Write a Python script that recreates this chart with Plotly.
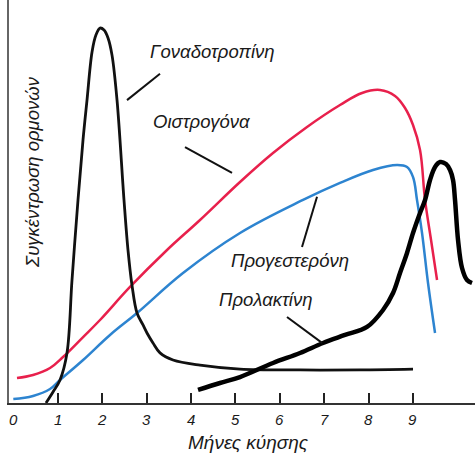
import plotly.graph_objects as go

# Months of pregnancy (x) and relative hormone concentration (y, 0-100)
gonado_x = [0.736, 0.894, 1.052, 1.209, 1.322, 1.457, 1.570, 1.660, 1.773, 1.863, 1.953,
            2.043, 2.133, 2.223, 2.336, 2.493, 2.583, 2.673, 2.786, 2.921, 3.011, 3.146,
            3.304, 3.597, 4.205, 5.106, 6.457, 7.809, 9.002]
gonado_y = [0.0, 2.76, 5.78, 12.56, 30.9, 51.0, 66.1, 76.1, 88.2, 92.5, 94.2,
            93.7, 91.7, 87.4, 76.1, 51.0, 38.4, 29.6, 22.6, 19.6, 17.6, 15.1,
            12.6, 10.8, 9.5, 8.5, 8.3, 8.3, 8.5]

estro_x = [0.083, 0.444, 0.827, 1.119, 1.572, 1.953, 2.628, 3.462, 4.205, 5.106, 5.849,
           6.615, 7.358, 7.854, 8.259, 8.597, 8.822, 9.002, 9.160, 9.273, 9.408, 9.543]
estro_y = [6.28, 7.04, 8.79, 11.56, 16.58, 20.85, 29.15, 38.44, 45.98, 55.53, 62.81,
           69.35, 74.87, 77.89, 78.64, 77.14, 74.12, 69.85, 63.57, 51.01, 40.95, 30.90]

proges_x = [0.0, 0.444, 0.827, 1.052, 1.572, 2.178, 2.786, 3.822, 5.106, 6.525, 7.358,
            8.101, 8.642, 8.867, 9.002, 9.092, 9.205, 9.340, 9.498]
proges_y = [1.0, 1.76, 3.52, 5.78, 10.80, 17.09, 22.61, 32.66, 42.71, 51.01, 55.28,
            58.54, 59.80, 59.30, 56.78, 51.01, 42.71, 30.15, 17.59]

prolac_x = [4.160, 4.655, 5.106, 5.849, 6.457, 6.975, 7.471, 7.966, 8.327, 8.552, 8.709,
            8.867, 9.002, 9.160, 9.273, 9.385, 9.498, 9.611, 9.746, 9.836, 9.903, 9.948,
            10.016, 10.106, 10.218, 10.331]
prolac_y = [3.27, 5.03, 6.53, 10.05, 12.56, 15.08, 17.09, 19.10, 23.37, 27.64, 32.66,
            37.69, 42.71, 47.74, 51.01, 56.03, 59.30, 60.55, 60.05, 58.54, 56.03, 51.01,
            40.95, 33.92, 30.90, 30.15]

month_ticks = [1, 2, 3, 4, 5, 6, 7, 8, 9]
month_labels = ["0", "1", "2", "3", "4", "5", "6", "7", "8", "9"]

# Curve labels: text, label centre, leader line start/end
labels = [
    ("Γοναδοτροπίνη", 4.475, 88.2, (2.561, 76.1), (3.304, 82.7)),
    ("Οιστρογόνα", 4.228, 70.6, (3.867, 64.3), (4.926, 57.8)),
    ("Προγεστερόνη", 6.232, 35.9, (6.840, 51.8), (6.502, 39.2)),
    ("Προλακτίνη", 5.691, 25.9, (6.164, 21.6), (6.953, 15.1)),
]

FONT = "Liberation Sans, Arial, sans-serif"
TXT = "#1a1a1a"

fig = go.Figure()
fig.add_trace(go.Scatter(x=estro_x, y=estro_y, mode="lines",
                         line=dict(color="#e8204c", width=2.5, shape="spline", smoothing=1.1)))
fig.add_trace(go.Scatter(x=proges_x, y=proges_y, mode="lines",
                         line=dict(color="#2d84d0", width=2.5, shape="spline", smoothing=1.1)))
fig.add_trace(go.Scatter(x=gonado_x, y=gonado_y, mode="lines",
                         line=dict(color="#111111", width=2.8, shape="spline", smoothing=1.0)))
fig.add_trace(go.Scatter(x=prolac_x, y=prolac_y, mode="lines",
                         line=dict(color="#000000", width=4.5, shape="spline", smoothing=1.0)))

for text, lx, ly, p0, p1 in labels:
    fig.add_annotation(x=lx, y=ly, text=f"<i>{text}</i>", showarrow=False,
                       xanchor="center", yanchor="middle",
                       font=dict(family=FONT, size=18.5, color=TXT))
    fig.add_shape(type="line", x0=p0[0], y0=p0[1], x1=p1[0], y1=p1[1],
                  line=dict(color="#111111", width=2))

# Month numbers under the axis
for i, lab in enumerate(month_labels):
    fig.add_annotation(x=i, y=0, yshift=-16, text=f"<i>{lab}</i>", showarrow=False,
                       xanchor="center", yanchor="middle",
                       font=dict(family=FONT, size=15, color=TXT))

fig.add_annotation(xref="paper", yref="paper", x=0.514, y=-0.097, text="<i>Μήνες κύησης</i>",
                   showarrow=False, xanchor="center", yanchor="middle",
                   font=dict(family=FONT, size=19, color=TXT))
fig.add_annotation(xref="paper", yref="paper", x=0.049, y=0.573, textangle=-90,
                   text="<i>Συγκέντρωση ορμονών</i>", showarrow=False,
                   xanchor="center", yanchor="middle",
                   font=dict(family=FONT, size=18.5, color=TXT))

fig.update_layout(
    width=475, height=455,
    margin=dict(l=9, r=0, t=0, b=52),
    paper_bgcolor="white", plot_bgcolor="white",
    showlegend=False,
    xaxis=dict(range=[-0.097, 10.398], tickvals=month_ticks, showticklabels=False,
               ticks="inside", ticklen=10, tickwidth=2, tickcolor="#222222",
               showline=True, linecolor="#333333", linewidth=2, showgrid=False,
               zeroline=False),
    yaxis=dict(range=[0, 101.25], showticklabels=False, ticks="", showline=True,
               linecolor="#666666", linewidth=2, showgrid=False, zeroline=False),
)

fig.write_html("out.html")
